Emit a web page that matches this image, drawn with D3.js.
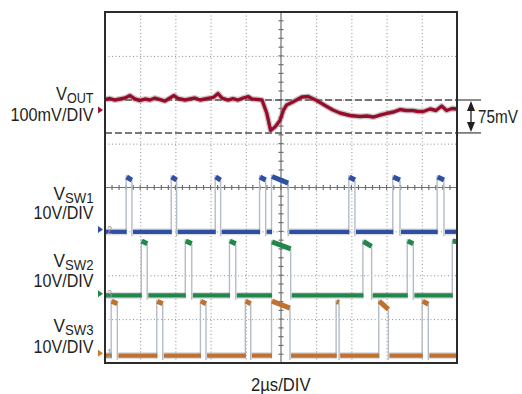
<!DOCTYPE html>
<html><head><meta charset="utf-8">
<script src="https://cdn.jsdelivr.net/npm/d3@7"></script>
<style>
html,body{margin:0;padding:0;background:#fff;}
svg{display:block;}
text{font-family:"Liberation Sans",Arial,sans-serif;fill:#231f20;}
</style></head><body><svg id="c" width="522" height="394"></svg>
<script>
// ---------- data ----------
// time axis in µs (2µs/DIV, 10 divisions)
const timeGrid = [0,2,4,6,8,10,12,14,16,18,20];
const divGrid = [-4,-3,-2,-1,0,1,2,3,4];

// VOUT (mV, relative to channel marker), 100mV/DIV
const voutTime = [0,0.28,0.57,0.85,1.14,1.42,1.70,1.99,2.27,2.56,2.84,3.13,3.41,3.69,3.92,4.15,4.55,4.83,5.11,5.40,5.68,5.97,6.19,6.42,6.65,6.99,7.27,7.56,7.84,8.13,8.35,8.69,8.92,9.19,9.41,9.66,9.94,10.15,10.32,10.70,11.18,11.55,12.03,12.60,12.95,13.35,13.92,14.49,14.89,15.24,15.63,15.97,16.38,16.76,17.10,17.50,17.78,18.09,18.47,18.81,19.13,19.41,19.72,20];
const voutMv = [23.9,26.2,22.8,25.1,27.3,33.0,25.1,21.7,25.1,22.8,27.3,23.9,20.5,27.3,33.0,26.2,22.8,25.1,27.3,22.8,25.1,27.3,29.6,37.6,27.3,22.8,26.2,22.8,27.3,30.8,25.1,23.9,22.8,-6.8,-46.7,-38.7,-24.0,0.5,11.4,18.9,29.6,30.8,21.7,8.0,0,-6.8,-12.5,-14.8,-13.7,-16.0,-11.4,-8.0,-4.6,1.1,-1.1,-1.1,-3.4,-3.4,2.3,-1.1,9.1,-1.1,3.4,2.3];
const voutRefTop = 22.8;      // upper dashed level (mV)
const voutDelta = 75;         // annotated step (mV)

// switch nodes (V), 10V/DIV
const sw1Rise = [1.23,3.79,6.29,8.81,9.49,13.88,16.38,18.90];
const sw1Fall = [1.53,4.07,6.57,9.13,10.41,14.20,16.76,19.26];
const sw1TopStart = [12.0,12.0,12.0,12.0,12.1,12.0,12.0,12.0];
const sw1TopEnd   = [11.3,11.3,11.3,11.3,10.6,11.3,11.3,11.3];

const sw2Rise = [2.09,4.59,7.10,9.49,14.68,17.20,19.76];
const sw2Fall = [2.40,4.93,7.43,10.55,15.15,17.52,20.4];
const sw2TopStart = [12.0,12.0,12.0,11.8,11.9,12.0,12.0];
const sw2TopEnd   = [11.4,11.4,11.4,10.2,10.8,11.4,11.6];

const sw3Rise = [0.38,2.97,5.45,8.00,9.49,13.16,15.58,18.05];
const sw3Fall = [0.70,3.28,5.74,8.28,10.51,13.30,16.10,18.37];
const sw3TopStart = [11.9,11.9,11.9,11.9,11.9,11.8,11.9,11.9];
const sw3TopEnd   = [11.3,11.3,11.3,11.3,10.3,11.6,10.0,11.2];

const channelNames = ["SW1","SW2","SW3"];
const channelNums = ["2","3","1"];

// ---------- setup ----------
const svg = d3.select("#c");
const L=105, R=457, T=12, B=363;
const x = d3.scaleLinear().domain([0,20]).range([L,R]);
const y = d3.scaleLinear().domain([-4,4]).range([B,T]);

svg.append("defs").append("clipPath").attr("id","clip")
  .append("rect").attr("x",L).attr("y",T).attr("width",R-L).attr("height",B-T);

// grid (dotted)
const grid = svg.append("g");
grid.append("g").attr("transform",`translate(0,${B})`)
  .call(d3.axisBottom(x).tickValues(timeGrid.filter(t=>t>0&&t<20&&t!==10)).tickSize(-(B-T)).tickFormat(""))
  .call(g=>g.select(".domain").remove())
  .call(g=>g.selectAll("line").attr("stroke","#8c8c8c").attr("stroke-dasharray","1,2.5"));
grid.append("g").attr("transform",`translate(${L},0)`)
  .call(d3.axisLeft(y).tickValues(divGrid.filter(d=>d>-4&&d<4&&d!==0)).tickSize(-(R-L)).tickFormat(""))
  .call(g=>g.select(".domain").remove())
  .call(g=>g.selectAll("line").attr("stroke","#8c8c8c").attr("stroke-dasharray","1,2.5"));

// center axes with minor ticks
const minorT = d3.range(0,20.001,0.4);
const minorD = d3.range(-4,4.001,0.2);
svg.append("line").attr("x1",L).attr("x2",R).attr("y1",y(0)).attr("y2",y(0)).attr("stroke","#707070").attr("stroke-width",1.2);
svg.append("line").attr("x1",x(10)).attr("x2",x(10)).attr("y1",T).attr("y2",B).attr("stroke","#707070").attr("stroke-width",1.2);
svg.append("g").selectAll("line").data(minorT).join("line")
  .attr("x1",d=>x(d)).attr("x2",d=>x(d)).attr("y1",y(0)-2.5).attr("y2",y(0)+2.5)
  .attr("stroke","#707070").attr("stroke-width",1.2);
svg.append("g").selectAll("line").data(minorD).join("line")
  .attr("x1",x(10)-2.5).attr("x2",x(10)+2.5).attr("y1",d=>y(d)).attr("y2",d=>y(d))
  .attr("stroke","#707070").attr("stroke-width",1.2);

// ---------- VOUT ----------
const voutOffset = 1.766, voutPerDiv = 100;
const yV = mv => y(voutOffset + mv/voutPerDiv);
const refLevels = [voutRefTop, voutRefTop - voutDelta];
refLevels.forEach(v=>{
  svg.append("line").attr("x1",L).attr("x2",R).attr("y1",yV(v)).attr("y2",yV(v))
    .attr("stroke","#4d4d4d").attr("stroke-width",1.5).attr("stroke-dasharray","7,3");
  svg.append("line").attr("x1",R).attr("x2",481).attr("y1",yV(v)).attr("y2",yV(v))
    .attr("stroke","#4d4d4d").attr("stroke-width",1.3);
});
const voutData = voutTime.map((t,i)=>[t,voutMv[i]]);
const vline = d3.line().x(d=>x(d[0])).y(d=>yV(d[1]));
const vg = svg.append("g").attr("clip-path","url(#clip)");
vg.append("path").attr("d",vline(voutData)).attr("fill","none").attr("stroke","#8a8a8a").attr("stroke-opacity",0.45).attr("stroke-width",6).attr("stroke-linejoin","round");
vg.append("path").attr("d",vline(voutData)).attr("fill","none").attr("stroke","#a20f30").attr("stroke-width",3.4).attr("stroke-linejoin","round");
vg.append("path").attr("d",vline(voutData)).attr("fill","none").attr("stroke","#5c0a1c").attr("stroke-opacity",0.45).attr("stroke-width",1).attr("stroke-linejoin","round");

// ---------- switch channels ----------
const channels = [
  {rise:sw1Rise, fall:sw1Fall, ts:sw1TopStart, te:sw1TopEnd, offset:-0.96, low:-0.5, color:"#2f50a2", mark:"#2f50a2"},
  {rise:sw2Rise, fall:sw2Fall, ts:sw2TopStart, te:sw2TopEnd, offset:-2.42, low:-0.4, color:"#22874a", mark:"#22874a"},
  {rise:sw3Rise, fall:sw3Fall, ts:sw3TopStart, te:sw3TopEnd, offset:-3.78, low:-0.5, color:"#c0712f", mark:"#d07a30"}
];
const perDiv = 10;
const cg = svg.append("g").attr("clip-path","url(#clip)");
channels.forEach(ch=>{
  const yc = v => y(ch.offset + v/perDiv);
  const g = cg.append("g");
  // edges (gray)
  ch.rise.forEach((r,i)=>{
    g.append("line").attr("x1",x(r)-0.5).attr("x2",x(r)-0.5).attr("y1",yc(ch.low-0.6)).attr("y2",yc(ch.ts[i]+0.4))
      .attr("stroke","#b4bcc8").attr("stroke-width",1.4);
    g.append("line").attr("x1",x(ch.fall[i])).attr("x2",x(ch.fall[i])).attr("y1",yc(ch.te[i])).attr("y2",yc(ch.low-1.0))
      .attr("stroke","#b4bcc8").attr("stroke-width",1.4);
  });
  // low segments
  const lows = [];
  let start = 0;
  ch.rise.forEach((r,i)=>{ lows.push([start,r]); start = ch.fall[i]+0.06; });
  lows.push([start,20.5]);
  const lowsF = lows.filter(s=>s[1]>s[0]);
  g.selectAll(".lh").data(lowsF).join("line").attr("class","lh")
    .attr("x1",d=>x(d[0])).attr("x2",d=>x(d[1])).attr("y1",yc(ch.low)).attr("y2",yc(ch.low))
    .attr("stroke","#9aa0aa").attr("stroke-opacity",0.35).attr("stroke-width",7);
  g.selectAll(".lo").data(lowsF).join("line").attr("class","lo")
    .attr("x1",d=>x(d[0])).attr("x2",d=>x(d[1])).attr("y1",yc(ch.low)).attr("y2",yc(ch.low))
    .attr("stroke",ch.color).attr("stroke-width",4.2);
  // high segments
  const highs = ch.rise.map((r,i)=>[r,ch.fall[i],ch.ts[i],ch.te[i]]);
  g.selectAll(".hi").data(highs).join("line").attr("class","hi")
    .attr("x1",d=>x(d[0])).attr("x2",d=>x(d[1])).attr("y1",d=>yc(d[2])).attr("y2",d=>yc(d[3]))
    .attr("stroke",ch.color).attr("stroke-width",5);
});

// border
svg.append("rect").attr("x",L).attr("y",T).attr("width",R-L).attr("height",B-T)
  .attr("fill","none").attr("stroke","#2b2b2b").attr("stroke-width",2);

// ---------- markers ----------
const tri = (yy,color)=>svg.append("path").attr("d",`M${L-7},${yy-3.5}L${L-2},${yy}L${L-7},${yy+3.5}Z`).attr("fill",color);
tri(y(voutOffset),"#a20f30");
channels.forEach((ch,i)=>{
  tri(y(ch.offset), ch.mark);
  svg.append("text").attr("x",L+2).attr("y",y(ch.offset)+4).attr("font-size",11)
    .attr("textLength",5).attr("lengthAdjust","spacingAndGlyphs").style("fill","#9a9a9a").text(channelNums[i]);
});

// ---------- labels ----------
const labelX = 93.5;
function fitText(sel, w){ sel.attr("textLength",w).attr("lengthAdjust","spacingAndGlyphs"); return sel; }
function vlabel(sub, yy, w){
  const t = svg.append("text").attr("x",labelX - w).attr("y",yy).attr("font-size",19);
  t.append("tspan").text("V");
  t.append("tspan").attr("font-size",14.5).attr("dy",3).text(sub);
  fitText(t, w);
}
vlabel("OUT",100,37.5);
fitText(svg.append("text").attr("x",labelX-83).attr("y",121).attr("font-size",19).text("100mV/DIV"),83);
const vy = [199.5,267,332];
const dy = [219,287,353];
channelNames.forEach((n,i)=>{
  vlabel(n, vy[i], 40);
  fitText(svg.append("text").attr("x",labelX-60).attr("y",dy[i]).attr("font-size",19).text("10V/DIV"),60);
});
fitText(svg.append("text").attr("x",x(10)-30).attr("y",391).attr("font-size",19).text("2µs/DIV"),59.5);

// ---------- 75mV annotation ----------
const ax = 471, yTop = yV(refLevels[0]), yBot = yV(refLevels[1]);
svg.append("line").attr("x1",ax).attr("x2",ax).attr("y1",yTop+6).attr("y2",yBot-6).attr("stroke","#231f20").attr("stroke-width",1.3);
svg.append("path").attr("d",`M${ax},${yTop+1}L${ax-4},${yTop+11}L${ax+4},${yTop+11}Z`).attr("fill","#231f20");
svg.append("path").attr("d",`M${ax},${yBot-1}L${ax-4},${yBot-11}L${ax+4},${yBot-11}Z`).attr("fill","#231f20");
fitText(svg.append("text").attr("x",478).attr("y",123).attr("font-size",19).text(voutDelta+"mV"),40);
</script></body></html>
